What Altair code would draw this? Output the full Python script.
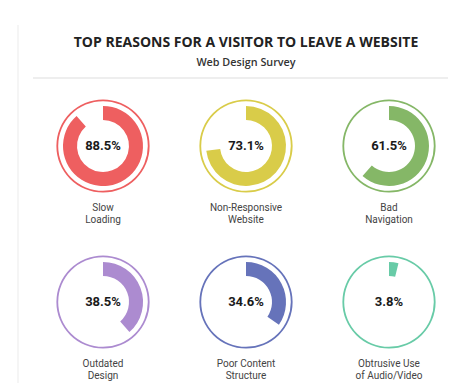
import math
import altair as alt
import pandas as pd
import numpy as np

# ---- data ----
names = ["Slow Loading", "Non-Responsive Website", "Bad Navigation",
         "Outdated Design", "Poor Content Structure", "Obtrusive Use of Audio/Video"]
label_line1 = ["Slow", "Non-Responsive", "Bad", "Outdated", "Poor Content", "Obtrusive Use"]
label_line2 = ["Loading", "Website", "Navigation", "Design", "Structure", "of Audio/Video"]
values = [88.5, 73.1, 61.5, 38.5, 34.6, 3.8]
colors = ["#EE5F60", "#D9CC49", "#85B767", "#AC8BD0", "#6673BA", "#68CBA7"]

title_text = "TOP REASONS FOR A VISITOR TO LEAVE A WEBSITE"
subtitle_text = "Web Design Survey"

idx = np.arange(len(names))
df = pd.DataFrame({
    "name": names,
    "label": [a + "\n" + b for a, b in zip(label_line1, label_line2)],
    "value": values,
    "start": 0.0,
    "full": 100.0,
    "col": idx % 3,
    "row": idx // 3,
})

W, H = 440, 375
base = alt.Chart(df).encode(
    x=alt.X("col:Q", scale=alt.Scale(domain=[0, 2], range=[95, 381]), axis=None),
    y=alt.Y("row:Q", scale=alt.Scale(domain=[0, 1], range=[138, 294]), axis=None),
)
color = alt.Color("name:N", scale=alt.Scale(domain=names, range=colors), legend=None)
theta_scale = alt.Scale(domain=[0, 100], range=[0, 2 * math.pi])

ring = base.mark_arc(innerRadius=44.8, outerRadius=46.6).encode(
    theta=alt.Theta("start:Q", stack=None, scale=theta_scale),
    theta2="full:Q",
    color=color,
)
arc = base.mark_arc(innerRadius=26, outerRadius=40).encode(
    theta=alt.Theta("start:Q", stack=None, scale=theta_scale),
    theta2="value:Q",
    color=color,
)
pct = base.transform_calculate(
    pct="format(datum.value, '.1f') + '%'"
).mark_text(font="Roboto", fontSize=13, fontWeight="bold", color="#1a1a1a",
            baseline="middle", align="center").encode(text="pct:N")
labels = base.mark_text(font="Roboto", fontSize=10, color="#444444", baseline="top",
                        align="center", lineBreak="\n", lineHeight=12, dy=57).encode(text="label:N")

one = pd.DataFrame({"t": [title_text], "s": [subtitle_text]})
deco = alt.Chart(one)
vline = deco.mark_rule(color="#eeeeee", strokeWidth=1.2).encode(
    x=alt.value(10), y=alt.value(17), y2=alt.value(H))
hline = deco.mark_rule(color="#e8e8e8", strokeWidth=1.5).encode(
    x=alt.value(25), x2=alt.value(W), y=alt.value(70))
title = deco.mark_text(font="Open Sans", fontSize=14, fontWeight="bold", color="#222222",
                       baseline="middle", align="center").encode(
    text="t:N", x=alt.value(238), y=alt.value(35))
subtitle = deco.mark_text(font="Open Sans", fontSize=10.8, fontWeight=600, color="#333333",
                          baseline="middle", align="center").encode(
    text="s:N", x=alt.value(238), y=alt.value(55))

chart = alt.layer(vline, hline, title, subtitle, ring, arc, pct, labels).properties(
    width=W, height=H,
    autosize=alt.AutoSizeParams(type="none"),
    padding=0,
).configure_view(stroke=None)

chart.save("out.html", embed_options={"renderer": "svg", "actions": False})
